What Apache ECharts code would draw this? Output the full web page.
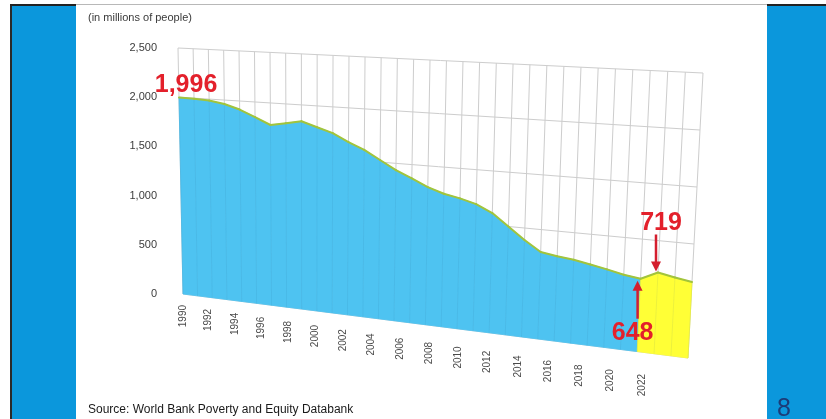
<!DOCTYPE html>
<html>
<head>
<meta charset="utf-8">
<script src="https://cdn.jsdelivr.net/npm/echarts@6/dist/echarts.min.js"></script>
<style>
html,body{margin:0;padding:0;background:#fff;}
#chart{width:826px;height:419px;}
</style>
</head>
<body>
<div id="chart"></div>
<script>
// ---- data ----
const years = [1990,1991,1992,1993,1994,1995,1996,1997,1998,1999,2000,2001,2002,2003,2004,2005,2006,2007,2008,2009,2010,2011,2012,2013,2014,2015,2016,2017,2018,2019,2020,2021,2022];
const poorMillions = [1996,1993,1985,1960,1915,1850,1782,1810,1840,1792,1745,1670,1606,1520,1436,1370,1300,1250,1220,1180,1110,1000,890,795,772,755,728,700,668,648,719,690,667];
const historicalEndYear = 2019;
const yTicks = [0,500,1000,1500,2000,2500];
const xLabelYears = [1990,1992,1994,1996,1998,2000,2002,2004,2006,2008,2010,2012,2014,2016,2018,2020,2022];
const calloutYears = [1990,2020,2019];
const calloutTexts = ['1,996','719','648'];
const calloutArrows = ['none','down','up'];

// ---- perspective of the 3D wall (fractions of the grid box) ----
const PERSP = {
  leanLeft: 5/525,
  leanRight: 15/525,
  rightTopDrop: 25/246,
  rightBottomDrop: 64/246,
  bow: 0.08
};
const LABEL_EDGE = { x0: 5/525, x1: 464/525, y0: 11/246, y1: 80/246, bow: 0.11 };

function warp(pt, r) {
  const W = r.width, H = r.height;
  const u0 = (pt[0] - r.x) / W;
  const v = (r.y + H - pt[1]) / H;
  const u = u0 - PERSP.bow * u0 * (1 - u0);
  const lx = r.x + PERSP.leanLeft * W * (1 - v);
  const ly = pt[1];
  const rTop = r.y + PERSP.rightTopDrop * H;
  const rBot = r.y + H + PERSP.rightBottomDrop * H;
  const rx = r.x + W - PERSP.leanRight * W * (1 - v);
  const ry = rBot - v * (rBot - rTop);
  return [lx + u * (rx - lx), ly + u * (ry - ly)];
}

const valueOf = {};
years.forEach((y, i) => { valueOf[y] = poorMillions[i]; });

const blueSegs = [], yellowSegs = [], allSegs = [];
for (let i = 0; i < years.length - 1; i++) {
  const seg = [years[i], poorMillions[i], years[i + 1], poorMillions[i + 1]];
  allSegs.push(seg);
  if (years[i + 1] <= historicalEndYear) blueSegs.push(seg); else yellowSegs.push(seg);
}

const BLUE = '#4EC3F1', YELLOW = '#FFFF36', EDGE = '#A2C43C', RED = '#E3202B', GRIDC = '#CDCDCD';
const yMin = yTicks[0], yMax = yTicks[yTicks.length - 1];

function areaRenderer(fill) {
  return function (params, api) {
    const r = params.coordSys;
    const x0 = api.value(0), v0 = api.value(1), x1 = api.value(2), v1 = api.value(3);
    const p0 = warp(api.coord([x0, v0]), r), p1 = warp(api.coord([x1, v1]), r);
    const b1 = warp(api.coord([x1, yMin]), r), b0 = warp(api.coord([x0, yMin]), r);
    return { type: 'polygon', shape: { points: [p0, p1, b1, b0] }, style: { fill: fill, stroke: fill, lineWidth: 0.8 } };
  };
}

const chart = echarts.init(document.getElementById('chart'), null, { renderer: 'canvas' });
chart.setOption({
  animation: false,
  backgroundColor: '#ffffff',
  grid: { left: 178, top: 48, right: 123, bottom: 125, containLabel: false },
  xAxis: { type: 'value', min: years[0], max: years[years.length - 1], show: false },
  yAxis: {
    type: 'value', min: yMin, max: yMax, interval: 500,
    axisLine: { show: false }, axisTick: { show: false }, splitLine: { show: false },
    axisLabel: { margin: 21, color: '#3c3c3c', fontSize: 11, fontFamily: 'Liberation Sans, Arial, sans-serif',
      formatter: v => v.toLocaleString('en-US') }
  },
  graphic: [
    { type: 'rect', shape: { x: 12, y: 5, width: 64, height: 414 }, style: { fill: '#0B97DC' }, z: 0 },
    { type: 'rect', shape: { x: 767, y: 5, width: 59, height: 414 }, style: { fill: '#0B97DC' }, z: 0 },
    { type: 'rect', shape: { x: 10, y: 4, width: 2, height: 415 }, style: { fill: '#2a2a2a' }, z: 0 },
    { type: 'rect', shape: { x: 10, y: 4, width: 66, height: 2 }, style: { fill: '#222' }, z: 0 },
    { type: 'rect', shape: { x: 767, y: 4, width: 59, height: 2 }, style: { fill: '#222' }, z: 0 },
    { type: 'rect', shape: { x: 76, y: 4, width: 691, height: 1 }, style: { fill: '#b8b8b8' }, z: 0 },
    { type: 'text', left: 88, top: 12, style: { text: '(in millions of people)', fill: '#3a3a3a', font: '11px "Liberation Sans", Arial, sans-serif' }, z: 5 },
    { type: 'text', left: 88, top: 404, style: { text: 'Source: World Bank Poverty and Equity Databank', fill: '#1a1a1a', font: '12px "Liberation Sans", Arial, sans-serif' }, z: 5 },
    { type: 'text', left: 777, top: 397, style: { text: '8', fill: '#1C3C78', font: '25px "Liberation Sans", Arial, sans-serif' }, z: 5 }
  ],
  series: [
    { // wall vertical gridlines
      type: 'custom', silent: true, z: 1,
      data: years.map(y => [y, yMin]),
      renderItem: function (params, api) {
        const r = params.coordSys, yr = api.value(0);
        const a = warp(api.coord([yr, yMin]), r), b = warp(api.coord([yr, yMax]), r);
        return { type: 'line', shape: { x1: a[0], y1: a[1], x2: b[0], y2: b[1] }, style: { stroke: GRIDC, lineWidth: 1 } };
      }
    },
    { // wall horizontal gridlines
      type: 'custom', silent: true, z: 1,
      data: yTicks.map(t => [years[0], t]),
      renderItem: function (params, api) {
        const r = params.coordSys, t = api.value(1);
        const a = warp(api.coord([years[0], t]), r), b = warp(api.coord([years[years.length - 1], t]), r);
        return { type: 'line', shape: { x1: a[0], y1: a[1], x2: b[0], y2: b[1] }, style: { stroke: GRIDC, lineWidth: 1 } };
      }
    },
    { name: 'Extreme poor', type: 'custom', z: 2, data: blueSegs, encode: { x: [0, 2], y: [1, 3] }, renderItem: areaRenderer(BLUE) },
    { name: 'Projection', type: 'custom', z: 2, data: yellowSegs, encode: { x: [0, 2], y: [1, 3] }, renderItem: areaRenderer(YELLOW) },
    { // faint wall lines seen through the area
      type: 'custom', silent: true, z: 3,
      data: years.map(y => [y, valueOf[y]]),
      renderItem: function (params, api) {
        const r = params.coordSys, yr = api.value(0), v = api.value(1);
        const a = warp(api.coord([yr, yMin]), r), b = warp(api.coord([yr, v]), r);
        return { type: 'line', shape: { x1: a[0], y1: a[1], x2: b[0], y2: b[1] }, style: { stroke: 'rgba(0,70,120,0.07)', lineWidth: 1 } };
      }
    },
    { // top edge of the area
      type: 'custom', silent: true, z: 4, data: allSegs, encode: { x: [0, 2], y: [1, 3] },
      renderItem: function (params, api) {
        const r = params.coordSys;
        const p0 = warp(api.coord([api.value(0), api.value(1)]), r), p1 = warp(api.coord([api.value(2), api.value(3)]), r);
        return { type: 'line', shape: { x1: p0[0], y1: p0[1], x2: p1[0], y2: p1[1] }, style: { stroke: EDGE, lineWidth: 2, lineCap: 'round' } };
      }
    },
    { // year labels along the front edge of the floor
      type: 'custom', silent: true, z: 5,
      data: xLabelYears.map(y => [y, yMin]),
      renderItem: function (params, api) {
        const r = params.coordSys, yr = api.value(0);
        const p = api.coord([yr, yMin]);
        const u0 = (p[0] - r.x) / r.width;
        const u = u0 - LABEL_EDGE.bow * u0 * (1 - u0);
        const x = r.x + r.width * (LABEL_EDGE.x0 + u * (LABEL_EDGE.x1 - LABEL_EDGE.x0));
        const y = r.y + r.height + r.height * (LABEL_EDGE.y0 + u * (LABEL_EDGE.y1 - LABEL_EDGE.y0));
        return { type: 'text', x: x, y: y, rotation: Math.PI / 2,
          style: { text: String(yr), fill: '#4a4a4a', font: '10px "Liberation Sans", Arial, sans-serif', align: 'right', verticalAlign: 'middle' } };
      }
    },
    { // red callouts
      type: 'custom', silent: true, z: 6,
      data: calloutYears.map((y, i) => [y, valueOf[y], i]),
      renderItem: function (params, api) {
        const r = params.coordSys, i = api.value(2);
        const p = warp(api.coord([api.value(0), api.value(1)]), r);
        const font = 'bold 25px "Liberation Sans", Arial, sans-serif';
        const kids = [];
        const dir = calloutArrows[i];
        if (dir === 'none') {
          kids.push({ type: 'text', x: p[0] + 7, y: p[1] - 12, style: { text: calloutTexts[i], fill: RED, font: font, align: 'center', verticalAlign: 'middle' } });
        } else if (dir === 'down') {
          const ax = p[0] - 2;
          kids.push({ type: 'text', x: p[0] + 3, y: p[1] - 49, style: { text: calloutTexts[i], fill: RED, font: font, align: 'center', verticalAlign: 'middle' } });
          kids.push({ type: 'line', shape: { x1: ax, y1: p[1] - 38, x2: ax, y2: p[1] - 10 }, style: { stroke: '#D41E2E', lineWidth: 2.5 } });
          kids.push({ type: 'polygon', shape: { points: [[ax - 5, p[1] - 11], [ax + 5, p[1] - 11], [ax, p[1] - 1]] }, style: { fill: '#D41E2E' } });
        } else {
          const ax = p[0] - 3;
          kids.push({ type: 'text', x: p[0] - 8, y: p[1] + 54, style: { text: calloutTexts[i], fill: RED, font: font, align: 'center', verticalAlign: 'middle' } });
          kids.push({ type: 'line', shape: { x1: ax, y1: p[1] + 40, x2: ax, y2: p[1] + 11 }, style: { stroke: '#D41E2E', lineWidth: 2.5 } });
          kids.push({ type: 'polygon', shape: { points: [[ax - 5, p[1] + 12], [ax + 5, p[1] + 12], [ax, p[1] + 2]] }, style: { fill: '#D41E2E' } });
        }
        return { type: 'group', children: kids };
      }
    }
  ]
});
</script>
</body>
</html>
